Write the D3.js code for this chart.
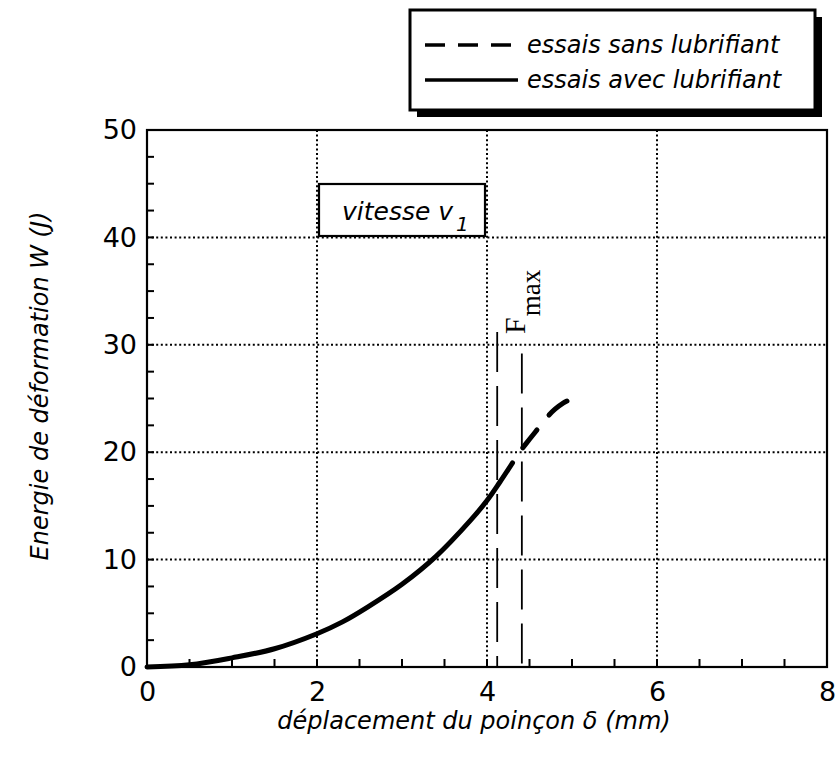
<!DOCTYPE html>
<html>
<head>
<meta charset="utf-8">
<script src="https://cdn.jsdelivr.net/npm/d3@7"></script>
<style>
  html, body { margin: 0; padding: 0; background: #fff; }
  svg { display: block; }
  text { fill: #000; }
</style>
</head>
<body>
<svg id="chart" width="838" height="759"></svg>
<script>
// Deformation energy W (J) versus punch displacement δ (mm)
const xTicks = [0, 2, 4, 6, 8];
const yTicks = [0, 10, 20, 30, 40, 50];
const xGrid = [2, 4, 6];
const yGrid = [10, 20, 30, 40];

// tests with lubricant (solid)
const avecX = [0, 0.5, 1.0, 1.5, 2.0, 2.3, 2.6, 3.0, 3.4, 3.8, 4.0, 4.15, 4.3];
const avecW = [0, 0.2, 0.85, 1.7, 3.1, 4.2, 5.6, 7.7, 10.3, 13.6, 15.5, 17.2, 19.0];

// tests without lubricant (dashed)
const sansX = [4.42, 4.5, 4.6, 4.7, 4.8, 4.9, 4.98];
const sansW = [20.4, 21.2, 22.2, 23.2, 24.0, 24.6, 24.9];

// displacement at maximum force, one marker per test series
const fmaxX = [4.12, 4.41];
const fmaxTop = [31.2, 29.2];

const legendLabels = ["essais sans lubrifiant", "essais avec lubrifiant"];

const svg = d3.select("#chart");
const plotL = 147, plotR = 827, plotT = 130, plotB = 667;

const x = d3.scaleLinear().domain([0, 8]).range([plotL, plotR]);
const y = d3.scaleLinear().domain([0, 50]).range([plotB, plotT]);

const sansFont = "'DejaVu Sans', 'Open Sans', sans-serif";

// dotted grid
const grid = svg.append("g").attr("stroke", "#000").attr("stroke-width", 2)
  .attr("stroke-dasharray", "2,2.6");
grid.selectAll("line.gx").data(xGrid).join("line").attr("class", "gx")
  .attr("x1", d => x(d)).attr("x2", d => x(d)).attr("y1", plotT).attr("y2", plotB);
grid.selectAll("line.gy").data(yGrid).join("line").attr("class", "gy")
  .attr("x1", plotL).attr("x2", plotR).attr("y1", d => y(d)).attr("y2", d => y(d));

// inward minor ticks on the bottom and left edges
const xMinor = d3.range(0, 8.01, 0.5);
const yMinor = d3.range(0, 50.01, 2.5);
const ticks = svg.append("g").attr("stroke", "#000").attr("stroke-width", 2);
ticks.selectAll("line.tx").data(xMinor).join("line").attr("class", "tx")
  .attr("x1", d => x(d)).attr("x2", d => x(d))
  .attr("y1", plotB).attr("y2", plotB - 8);
ticks.selectAll("line.ty").data(yMinor).join("line").attr("class", "ty")
  .attr("x1", plotL).attr("x2", plotL + 7)
  .attr("y1", d => y(d)).attr("y2", d => y(d));

// tick labels
const gxl = svg.append("g").attr("transform", `translate(0,${plotB})`)
  .call(d3.axisBottom(x).tickValues(xTicks).tickSize(0).tickPadding(15).tickFormat(d3.format("d")));
const gyl = svg.append("g").attr("transform", `translate(${plotL},0)`)
  .call(d3.axisLeft(y).tickValues(yTicks).tickSize(0).tickPadding(10).tickFormat(d3.format("d")));
[gxl, gyl].forEach(g => {
  g.select(".domain").remove();
  g.selectAll(".tick text").attr("font-family", sansFont).attr("font-size", 27).attr("fill", "#000");
});

// frame
svg.append("rect").attr("x", plotL).attr("y", plotT)
  .attr("width", plotR - plotL).attr("height", plotB - plotT)
  .attr("fill", "none").attr("stroke", "#000").attr("stroke-width", 2.2);

// Fmax markers
svg.append("g").selectAll("line").data(fmaxX).join("line")
  .attr("x1", d => x(d)).attr("x2", d => x(d))
  .attr("y1", (d, i) => y(fmaxTop[i])).attr("y2", plotB)
  .attr("stroke", "#000").attr("stroke-width", 1.8)
  .attr("stroke-dasharray", "40,14");

const fm = svg.append("text")
  .attr("transform", `translate(525,334) rotate(-90)`)
  .attr("font-family", "'Liberation Serif', 'DejaVu Serif', serif")
  .attr("font-size", 30);
fm.append("tspan").text("F");
fm.append("tspan").attr("font-size", 27).attr("dy", 15).attr("dx", 1).text("max");

// curves
const line = d3.line().x(d => x(d[0])).y(d => y(d[1])).curve(d3.curveCatmullRom);
svg.append("path").datum(d3.zip(avecX, avecW)).attr("d", line)
  .attr("fill", "none").attr("stroke", "#000").attr("stroke-width", 5)
  .attr("stroke-linecap", "round");
svg.append("path").datum(d3.zip(sansX, sansW)).attr("d", line)
  .attr("fill", "none").attr("stroke", "#000").attr("stroke-width", 5)
  .attr("stroke-dasharray", "23,19").attr("stroke-linecap", "round");

// speed label box
svg.append("rect").attr("x", 319).attr("y", 184).attr("width", 166).attr("height", 52)
  .attr("fill", "#fff").attr("stroke", "#000").attr("stroke-width", 2.2);
const vt = svg.append("text").attr("x", 342).attr("y", 220)
  .attr("font-family", sansFont).attr("font-style", "italic").attr("font-size", 25);
vt.append("tspan").text("vitesse v");
vt.append("tspan").attr("font-size", 20).attr("dy", 11).attr("dx", 3).text("1");

// axis titles
svg.append("text").attr("x", 474).attr("y", 729)
  .attr("text-anchor", "middle").attr("font-family", sansFont)
  .attr("font-style", "italic").attr("font-size", 24)
  .text("déplacement du poinçon δ (mm)");
svg.append("text").attr("transform", `translate(48,386) rotate(-90)`)
  .attr("text-anchor", "middle").attr("font-family", sansFont)
  .attr("font-style", "italic").attr("font-size", 24)
  .text("Energie de déformation W (J)");

// legend with drop shadow
const lg = svg.append("g");
lg.append("rect").attr("x", 417).attr("y", 17).attr("width", 405).attr("height", 100).attr("fill", "#000");
lg.append("rect").attr("x", 410).attr("y", 10).attr("width", 405).attr("height", 100)
  .attr("fill", "#fff").attr("stroke", "#000").attr("stroke-width", 3);
const styles = ["20,13", null];
legendLabels.forEach((lab, i) => {
  const yy = 45 + i * 35;
  lg.append("line").attr("x1", 425).attr("x2", 518).attr("y1", yy).attr("y2", yy)
    .attr("stroke", "#000").attr("stroke-width", 3.5)
    .attr("stroke-dasharray", styles[i]);
  lg.append("text").attr("x", 527).attr("y", yy + 8)
    .attr("font-family", sansFont).attr("font-style", "italic").attr("font-size", 24)
    .text(lab);
});
</script>
</body>
</html>
